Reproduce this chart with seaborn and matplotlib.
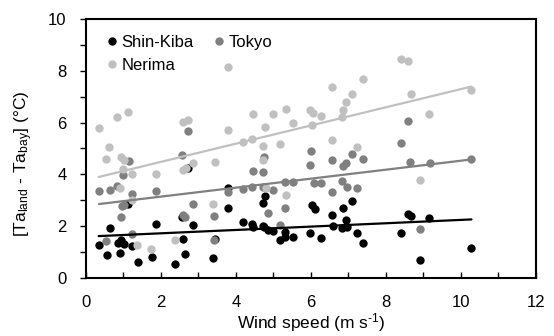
import numpy as np
import pandas as pd
import matplotlib
matplotlib.use("Agg")
import matplotlib.pyplot as plt
import seaborn as sns
from matplotlib.ticker import MultipleLocator
from matplotlib.lines import Line2D

# ---- data ----
shinkiba_x = [0.34, 0.55, 0.64, 0.86, 0.93, 1.02, 0.92, 1.12, 1.22, 1.38, 1.75, 1.88,
              2.38, 2.58, 2.64, 2.86, 2.55, 2.72, 3.38, 3.45, 3.78, 3.78, 4.19, 4.42,
              4.45, 4.71, 4.76, 4.86, 5.00, 4.77, 4.71, 5.17, 5.31, 5.51, 5.31, 5.97,
              6.02, 6.11, 6.28, 6.55, 6.58, 6.86, 7.09, 6.82, 6.93, 6.95, 7.22, 7.40,
              8.39, 8.60, 8.66, 8.91, 9.16, 10.28]
shinkiba_y = [1.27, 0.89, 1.94, 1.34, 1.47, 1.31, 0.97, 2.84, 1.23, 0.61, 0.81, 2.10,
              0.54, 1.51, 0.93, 2.05, 2.37, 4.25, 0.77, 1.52, 2.72, 3.46, 2.17, 2.10,
              1.95, 2.00, 1.95, 1.85, 1.82, 3.17, 2.88, 1.47, 1.60, 1.60, 1.79, 1.75,
              2.82, 2.67, 1.53, 2.43, 2.02, 2.69, 2.97, 1.93, 2.24, 1.98, 1.75, 1.37,
              1.72, 2.47, 2.39, 0.69, 2.30, 1.17]

tokyo_x = [0.35, 0.54, 0.64, 0.83, 0.93, 0.97, 1.02, 0.99, 1.15, 1.22, 1.23,
           1.88, 2.56, 2.72, 2.58, 2.64, 2.86, 3.42, 3.41, 3.80, 4.19, 4.42, 4.46,
           4.71, 4.74, 4.71, 5.00, 4.86, 5.17, 5.31, 5.31, 5.53, 6.00, 5.97, 6.08,
           6.28, 6.55, 6.55, 6.86, 6.93, 7.09, 7.40, 6.82, 6.95, 7.22, 8.40, 8.60,
           8.65, 8.91, 9.17, 10.28]
tokyo_y = [3.37, 1.42, 3.40, 3.55, 2.34, 2.79, 2.80, 3.97, 4.53, 3.24, 1.70,
           3.37, 4.75, 5.69, 2.43, 2.34, 2.86, 2.39, 1.47, 3.33, 3.43, 3.53, 4.14,
           4.10, 4.66, 3.53, 3.40, 2.50, 2.05, 2.69, 3.72, 3.72, 4.92, 4.36, 3.68,
           3.66, 4.56, 3.33, 4.32, 4.45, 4.79, 4.58, 3.76, 3.50, 3.46, 5.22, 6.06,
           4.49, 1.88, 4.43, 4.58]

nerima_x = [0.34, 0.53, 0.62, 0.84, 1.13, 0.93, 1.02, 0.99, 1.22, 0.90, 1.23, 1.35,
            1.74, 1.87, 2.58, 2.71, 2.60, 2.67, 2.86, 2.38, 3.43, 3.40, 3.78, 3.78,
            4.19, 4.42, 4.46, 4.71, 4.77, 4.73, 4.98, 5.33, 5.17, 5.53, 5.33, 4.80,
            5.97, 6.06, 6.28, 6.02, 6.55, 6.55, 6.82, 6.86, 6.93, 7.09, 7.40, 7.22,
            8.39, 8.60, 8.66, 8.91, 9.16, 10.28]
nerima_y = [5.78, 4.58, 5.05, 6.23, 6.42, 4.68, 4.56, 4.20, 4.02, 3.46, 3.00, 1.27,
            1.11, 4.02, 6.01, 6.10, 4.15, 4.23, 4.45, 1.47, 4.47, 2.86, 5.71, 8.16,
            5.26, 5.37, 6.35, 5.08, 5.81, 4.54, 6.32, 6.51, 5.18, 6.00, 3.20, 3.46,
            6.48, 6.36, 6.25, 5.92, 5.33, 7.38, 6.23, 6.49, 6.81, 7.10, 7.67, 5.05,
            8.44, 8.36, 7.10, 3.78, 6.33, 7.26]

series_names = ["Shin-Kiba", "Tokyo", "Nerima"]
series_colors = ["#000000", "#808080", "#c0c0c0"]

x_ticks = [0, 2, 4, 6, 8, 10, 12]
y_ticks = [0, 2, 4, 6, 8, 10]

# ---- style ----
sns.set_theme(style="white")
plt.rcParams["font.family"] = ["Liberation Sans", "DejaVu Sans"]
plt.rcParams["mathtext.fontset"] = "custom"
plt.rcParams["mathtext.rm"] = "Liberation Sans"
plt.rcParams["mathtext.it"] = "Liberation Sans:italic"
plt.rcParams["mathtext.bf"] = "Liberation Sans:bold"
for key in ["text.color", "axes.labelcolor", "xtick.color", "ytick.color"]:
    plt.rcParams[key] = "black"

fig = plt.figure(figsize=(5.54, 3.36), dpi=100)
ax = fig.add_axes([0.155, 0.1726, 0.8125, 0.771])

data = [(shinkiba_x, shinkiba_y), (tokyo_x, tokyo_y), (nerima_x, nerima_y)]
for (xs, ys), name, col in zip(data, series_names, series_colors):
    sns.scatterplot(x=xs, y=ys, color=col, s=36, linewidth=0, ax=ax, zorder=2)
for (xs, ys), name, col in zip(data, series_names, series_colors):
    sns.regplot(x=np.array(xs), y=np.array(ys), scatter=False, ci=None, truncate=True,
                color=col, line_kws={"linewidth": 1.6, "zorder": 3}, ax=ax)

ax.set_xlim(0, 12)
ax.set_ylim(0, 10)
ax.set_xticks(x_ticks)
ax.set_yticks(y_ticks)
ax.xaxis.set_minor_locator(MultipleLocator(1))
ax.yaxis.set_minor_locator(MultipleLocator(1))
ax.tick_params(axis="x", which="both", direction="in", length=4, width=1, color="black",
               pad=12, labelsize=12, bottom=True, top=False)
ax.tick_params(axis="y", which="both", direction="out", length=4, width=1, color="black",
               pad=10, labelsize=12, left=True, right=False)
for sp in ax.spines.values():
    sp.set_visible(True)
    sp.set_color("black")
    sp.set_linewidth(1.5)

ax.set_xlabel(r"Wind speed (m s$^{\text{-}1}$)", fontsize=12.5, labelpad=1)
ax.set_ylabel(r"[Ta$_{\mathrm{land}}$ - Ta$_{\mathrm{bay}}$] ($\degree$C)", fontsize=12.5)
ax.yaxis.set_label_coords(-0.112, 0.44)

handles = [Line2D([], [], marker="o", linestyle="none", markersize=6,
                  markerfacecolor=c, markeredgewidth=0) for c in series_colors]
order = [0, 2, 1]
ax.legend([handles[i] for i in order], [series_names[i] for i in order],
          ncol=2, loc="upper left", bbox_to_anchor=(0.02, 0.985), frameon=False,
          fontsize=12, handlelength=0.6, handletextpad=0.3, columnspacing=1.2,
          labelspacing=0.5, borderaxespad=0.3)

fig.savefig("out.png", dpi=100)
